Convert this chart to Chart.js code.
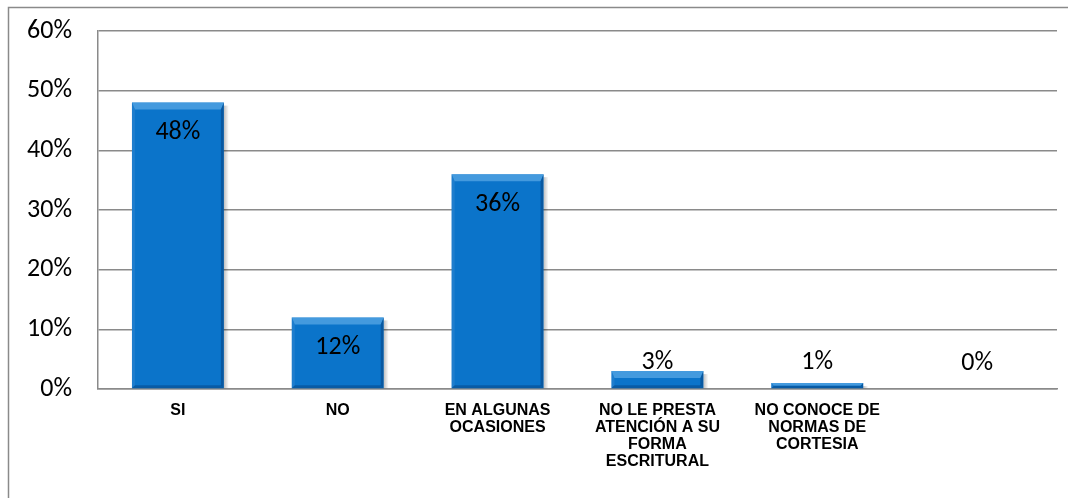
<!DOCTYPE html>
<html>
<head>
<meta charset="utf-8">
<script src="https://cdn.jsdelivr.net/npm/chart.js@4/dist/chart.umd.min.js"></script>
<style>
  html, body { margin: 0; padding: 0; background: #fff; }
  #wrap { width: 1068px; height: 498px; }
</style>
</head>
<body>
<div id="wrap"><canvas id="c" width="1068" height="498"></canvas></div>
<script>
// Survey answers (multi-line category labels) and their shares in percent
const categories = [
  ['SI'],
  ['NO'],
  ['EN ALGUNAS', 'OCASIONES'],
  ['NO LE PRESTA', 'ATENCIÓN A SU', 'FORMA', 'ESCRITURAL'],
  ['NO CONOCE DE', 'NORMAS DE', 'CORTESIA'],
  ['']
];
const percentages = [48, 12, 36, 3, 1, 0];
const yTicks = [0, 10, 20, 30, 40, 50, 60];

const labelFont = '"Carlito", "Open Sans", "Lato", sans-serif';

// Outer frame around the chart (left and top edges visible)
const framePlugin = {
  id: 'frame',
  beforeDraw(chart) {
    const ctx = chart.ctx;
    ctx.save();
    ctx.fillStyle = '#ffffff';
    ctx.fillRect(0, 0, chart.width, chart.height);
    ctx.strokeStyle = '#8a8a8a';
    ctx.lineWidth = 1.5;
    ctx.beginPath();
    ctx.moveTo(8.5, chart.height + 2);
    ctx.lineTo(8.5, 7.5);
    ctx.lineTo(chart.width + 2, 7.5);
    ctx.stroke();
    ctx.restore();
  }
};

// Soft shadow to the right of each bar, drawn before the bars
const shadowPlugin = {
  id: 'barShadow',
  beforeDatasetsDraw(chart) {
    const ctx = chart.ctx;
    chart.getDatasetMeta(0).data.forEach((bar) => {
      const r = bar.x + bar.width / 2;
      const t = bar.y, b = bar.base;
      if (b - t <= 0.5) return;
      const g = ctx.createLinearGradient(r, 0, r + 5, 0);
      g.addColorStop(0, 'rgba(0,0,0,0.25)');
      g.addColorStop(1, 'rgba(0,0,0,0)');
      ctx.save();
      ctx.fillStyle = g;
      ctx.fillRect(r, t + 3, 5, b - t - 3);
      ctx.restore();
    });
  }
};

// Bevelled look on each bar: wide light top edge, thin shaded sides
const bevelPlugin = {
  id: 'bevel',
  afterDatasetsDraw(chart) {
    const ctx = chart.ctx;
    const meta = chart.getDatasetMeta(0);
    meta.data.forEach((bar) => {
      const w = bar.width;
      const l = bar.x - w / 2, r = bar.x + w / 2;
      const t = bar.y, b = bar.base;
      const h = b - t;
      if (h <= 0.5) return;
      const dt = Math.min(7, h / 2);
      const ds = Math.min(3, h / 2);
      ctx.save();
      // top bevel (light)
      ctx.fillStyle = 'rgba(100,175,232,0.65)';
      ctx.beginPath();
      ctx.moveTo(l, t); ctx.lineTo(r, t); ctx.lineTo(r - ds, t + dt); ctx.lineTo(l + ds, t + dt); ctx.closePath();
      ctx.fill();
      // left bevel
      ctx.fillStyle = 'rgba(60,140,210,0.4)';
      ctx.beginPath();
      ctx.moveTo(l, t); ctx.lineTo(l + ds, t + dt); ctx.lineTo(l + ds, b - ds); ctx.lineTo(l, b); ctx.closePath();
      ctx.fill();
      // right bevel (dark)
      ctx.fillStyle = 'rgba(5,55,110,0.45)';
      ctx.beginPath();
      ctx.moveTo(r, t); ctx.lineTo(r, b); ctx.lineTo(r - ds, b - ds); ctx.lineTo(r - ds, t + dt); ctx.closePath();
      ctx.fill();
      // bottom bevel (dark)
      ctx.fillStyle = 'rgba(5,55,110,0.4)';
      ctx.beginPath();
      ctx.moveTo(l, b); ctx.lineTo(r, b); ctx.lineTo(r - ds, b - ds); ctx.lineTo(l + ds, b - ds); ctx.closePath();
      ctx.fill();
      ctx.restore();
    });
  }
};

// Value labels: inside the top of tall bars, just above the axis for short ones
const valueLabelPlugin = {
  id: 'valueLabels',
  afterDatasetsDraw(chart) {
    const ctx = chart.ctx;
    const meta = chart.getDatasetMeta(0);
    ctx.save();
    ctx.font = '26px ' + labelFont;
    ctx.fillStyle = '#000';
    ctx.textAlign = 'center';
    ctx.textBaseline = 'middle';
    meta.data.forEach((bar, i) => {
      const h = bar.base - bar.y;
      const y = h > 45 ? bar.y + 30 : bar.base - 26;
      ctx.fillText(percentages[i] + '%', bar.x, y);
    });
    ctx.restore();
  }
};

new Chart(document.getElementById('c'), {
  type: 'bar',
  data: {
    labels: categories,
    datasets: [{
      data: percentages,
      backgroundColor: '#0b74ca',
      borderWidth: 0,
      categoryPercentage: 1,
      barPercentage: 0.575
    }]
  },
  options: {
    responsive: false,
    animation: false,
    events: [],
    layout: { padding: { left: 9, right: 11, top: 31, bottom: 0 } },
    plugins: {
      legend: { display: false },
      tooltip: { enabled: false }
    },
    scales: {
      y: {
        min: 0,
        max: 60,
        afterBuildTicks(scale) { scale.ticks = yTicks.map(v => ({ value: v })); },
        afterFit(scale) { scale.width = 89; scale.paddingTop = 0; scale.paddingBottom = 0; },
        ticks: {
          padding: 26,
          color: '#000',
          font: { size: 26, family: labelFont },
          callback: (v) => v + '%'
        },
        grid: { color: '#8a8a8a', lineWidth: 1.5, drawTicks: false },
        border: { display: true, color: '#8a8a8a', width: 1.5 }
      },
      x: {
        afterFit(scale) { scale.height = 109; scale.paddingLeft = 0; scale.paddingRight = 0; },
        ticks: {
          padding: 13,
          color: '#000',
          maxRotation: 0,
          autoSkip: false,
          font: { size: 16, weight: 'bold', family: '"Liberation Sans", Arial, sans-serif', lineHeight: 1.0625 }
        },
        grid: { display: false, drawTicks: false },
        border: { display: true, color: '#8a8a8a', width: 1.5 }
      }
    }
  },
  plugins: [framePlugin, shadowPlugin, bevelPlugin, valueLabelPlugin]
});
</script>
</body>
</html>
